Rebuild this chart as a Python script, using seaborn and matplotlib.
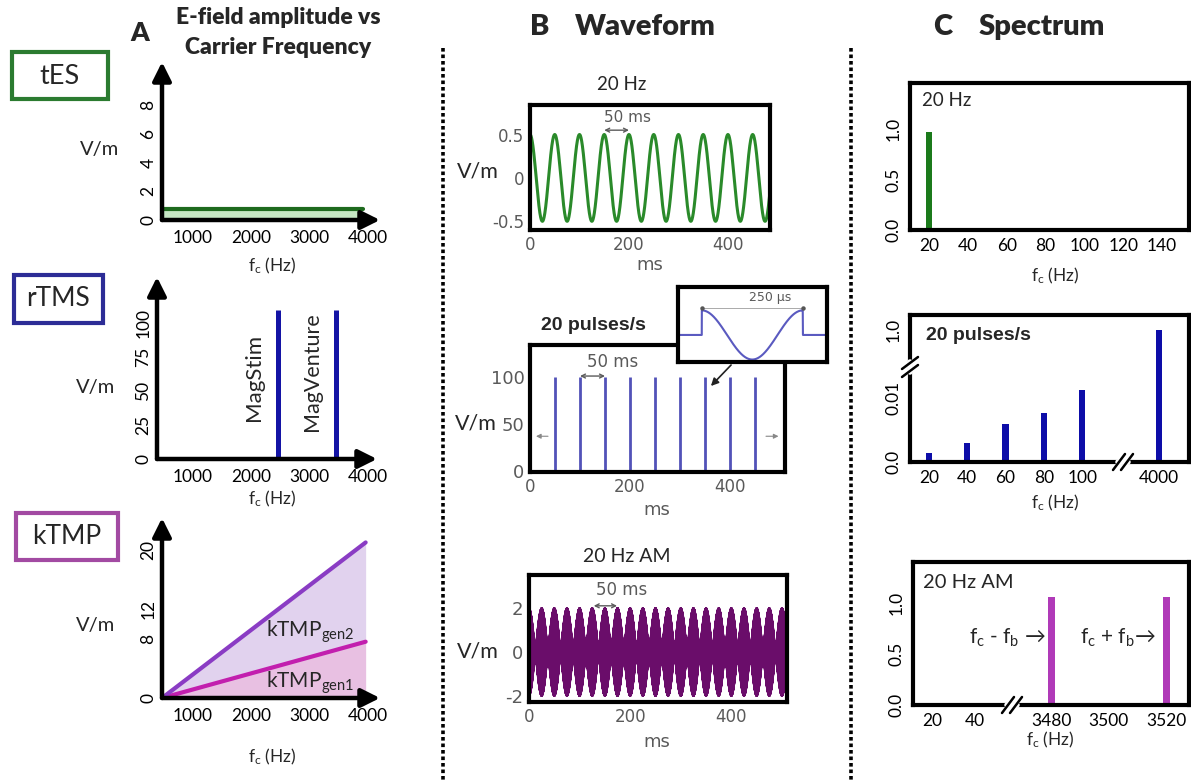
import numpy as np
import pandas as pd
import matplotlib
matplotlib.use("Agg")
import matplotlib.pyplot as plt
import seaborn as sns
from matplotlib.lines import Line2D
from matplotlib.patches import Rectangle, FancyArrowPatch

# ---------------- data ----------------
FREQ_TICKS = [1000, 2000, 3000, 4000]

TES_FREQ = [470, 3920]
TES_AMP = [0.75, 0.75]
TES_YTICKS = [0, 2, 4, 6, 8]

RTMS_DEVICES = ["MagStim", "MagVenture"]
RTMS_FREQ = [2450, 3450]
RTMS_AMP = [110, 110]
RTMS_YTICKS = [0, 25, 50, 75, 100]

KTMP_FREQ = [470, 3960]
KTMP_GEN1 = [0, 7.6]
KTMP_GEN2 = [0, 21.0]
KTMP_YTICKS = [0, 8, 12, 20]

SINE_FREQ_HZ = 20
SINE_AMP = 0.5
PULSE_TIMES_MS = [50, 100, 150, 200, 250, 300, 350, 400, 450]
PULSE_AMP = 100
PULSE_WIDTH_US = 250
AM_CARRIERS_HZ = [3480, 3520]
AM_AMPS = [1.0, 1.0]
MS_TICKS = [0, 200, 400]

SPEC1_FREQ = [20]
SPEC1_AMP = [0.97]
SPEC1_XTICKS = [20, 40, 60, 80, 100, 120, 140]

SPEC2_LABELS = ["20", "40", "60", "80", "100", "4000"]
SPEC2_AMP = [0.0014, 0.003, 0.006, 0.0077, 0.0112, 1.0]
SPEC2_ORDER = ["20", "40", "60", "80", "100", " ", "4000"]

SPEC3_FREQ = [3480, 3520]
SPEC3_AMP = [1.06, 1.06]
SPEC3_XTICKS = [20, 40, 3480, 3500, 3520]

# ---------------- style ----------------
sns.set_theme(style="white")
plt.rcParams['font.family'] = ['Lato', 'DejaVu Sans']
plt.rcParams['mathtext.fontset'] = 'custom'
plt.rcParams['mathtext.rm'] = 'Lato'
plt.rcParams['mathtext.it'] = 'Lato:italic'
plt.rcParams['mathtext.bf'] = 'Lato:bold'

W, H = 1191, 782
fig = plt.figure(figsize=(W / 100, H / 100), dpi=100)
fig.patch.set_facecolor('white')


def px(x, y):
    return x / W, 1 - y / H


def add_ax(x0, y0, x1, y1):
    return fig.add_axes([x0 / W, 1 - y1 / H, (x1 - x0) / W, (y1 - y0) / H])


def ftext(x, y, s, **kw):
    kw.setdefault('ha', 'center')
    kw.setdefault('va', 'center')
    return fig.text(x / W, 1 - y / H, s, **kw)


def fline(xs, ys, **kw):
    fig.add_artist(Line2D([x / W for x in xs], [1 - y / H for y in ys],
                          transform=fig.transFigure, **kw))


def fbox(x0, y0, x1, y1, color, lw=3):
    fig.add_artist(Rectangle((x0 / W, 1 - y1 / H), (x1 - x0) / W, (y1 - y0) / H,
                             transform=fig.transFigure, fill=False, ec=color, lw=lw))


def farrow(x0, y0, x1, y1, **kw):
    fig.add_artist(FancyArrowPatch(px(x0, y0), px(x1, y1),
                                   transform=fig.transFigure, **kw))


FC = 'f$_\\mathrm{c}$ (Hz)'
GRAY = '#5a5a5a'
HEAVY = 'heavy'


def arrow_axes(ax, xlim, ylim, yticks):
    ax.set_xlim(xlim)
    ax.set_ylim(ylim)
    for s in ax.spines.values():
        s.set_visible(False)
    ax.set_facecolor('none')
    ap = dict(arrowstyle='-|>,head_length=0.8,head_width=0.4', lw=3.2,
              color='black', shrinkA=0, shrinkB=0, mutation_scale=14)
    ax.annotate('', xy=(1.0, 0), xytext=(0, 0), xycoords='axes fraction',
                textcoords='axes fraction', arrowprops=ap, annotation_clip=False)
    ax.annotate('', xy=(0, 1.0), xytext=(0, 0), xycoords='axes fraction',
                textcoords='axes fraction', arrowprops=ap, annotation_clip=False)
    ax.set_xticks(FREQ_TICKS, labels=[str(t) for t in FREQ_TICKS])
    ax.set_yticks(yticks, labels=[str(t) for t in yticks])
    ax.tick_params(axis='both', length=0, labelsize=12.5, colors='black')
    ax.tick_params(axis='x', pad=7)
    ax.tick_params(axis='y', pad=4, labelrotation=90)
    for lab in ax.get_yticklabels():
        lab.set_va('center')
    ax.set(xlabel='', ylabel='')
    ax.grid(False)


def frame_axes(ax, lw=3):
    for s in ax.spines.values():
        s.set_visible(True)
        s.set_linewidth(lw)
        s.set_color('black')
    ax.grid(False)
    ax.set(xlabel='', ylabel='')


# ---------------- column A ----------------
ftext(140, 33, 'A', fontsize=19, fontweight=HEAVY)
ftext(278, 18, 'E-field amplitude vs', fontsize=16.5, fontweight=HEAVY)
ftext(278, 47, 'Carrier Frequency', fontsize=16.5, fontweight=HEAVY)

# tES
fbox(12, 52, 108, 99, '#2b7b30')
ftext(60, 76, 'tES', fontsize=19.5)
ax = add_ax(162, 62, 380, 220)
ax.fill_between(TES_FREQ, 0, TES_AMP, color='#c6e7c4', lw=0)
sns.lineplot(x=TES_FREQ, y=TES_AMP, color='#1e6a1e', lw=3, ax=ax)
arrow_axes(ax, (469, 4206), (0, 11), TES_YTICKS)
ftext(100, 150, 'V/m', fontsize=14.5)
ftext(272, 266, FC, fontsize=12.5)

# rTMS
fbox(14, 275, 103, 323, '#2c2c96')
ftext(58, 299, 'rTMS', fontsize=19)
ax = add_ax(157, 277, 377, 459)
ax.vlines(RTMS_FREQ, 0, RTMS_AMP, color='#1414a5', lw=3.6)
for name, f, yy, fs in zip(RTMS_DEVICES, RTMS_FREQ, [60, 64], [16, 15.5]):
    ax.text(f - 410, yy, name, rotation=90, ha='center', va='center', fontsize=fs)
arrow_axes(ax, (383, 4154), (0, 134), RTMS_YTICKS)
ftext(96, 388, 'V/m', fontsize=14.5)
ftext(272, 499, FC, fontsize=12.5)

# kTMP
fbox(16, 513, 118, 560, '#a24aa2')
ftext(67, 537, 'kTMP', fontsize=19)
ax = add_ax(162, 518, 380, 698)
ax.fill_between(KTMP_FREQ, 0, KTMP_GEN1, color='#e8c0e2', lw=0)
ax.fill_between(KTMP_FREQ, KTMP_GEN1, KTMP_GEN2, color='#e1d2ee', lw=0)
kdf = pd.DataFrame({'freq': KTMP_FREQ * 2, 'amp': KTMP_GEN1 + KTMP_GEN2,
                    'gen': ['gen1'] * 2 + ['gen2'] * 2})
sns.lineplot(data=kdf, x='freq', y='amp', hue='gen',
             palette={'gen1': '#c21fae', 'gen2': '#8a3cc4'}, lw=3,
             legend=False, ax=ax)
ax.text(3000, 8.9, 'kTMP$_\\mathrm{gen2}$', ha='center', va='center', fontsize=15)
ax.text(3000, 2.1, 'kTMP$_\\mathrm{gen1}$', ha='center', va='center', fontsize=15)
arrow_axes(ax, (469, 4206), (0, 24.3), KTMP_YTICKS)
ftext(96, 626, 'V/m', fontsize=14.5)
ftext(272, 757, FC, fontsize=12.5)

# separators
fline([443, 443], [48, 782], color='black', lw=2.6, ls=(0, (1, 0.8)))
fline([851, 851], [48, 782], color='black', lw=2.6, ls=(0, (1, 0.8)))


# ---------------- column B ----------------
ftext(540, 27, 'B', fontsize=21, fontweight=HEAVY)
ftext(645, 27, 'Waveform', fontsize=21, fontweight=HEAVY)


def b_ticks(ax, yticks, ylabels):
    ax.set_xticks(MS_TICKS, labels=[str(t) for t in MS_TICKS])
    ax.set_yticks(yticks, labels=ylabels)
    ax.tick_params(axis='both', length=0, labelsize=12, colors=GRAY,
                   labelfontfamily='DejaVu Sans')
    ax.tick_params(axis='x', pad=4)
    ax.tick_params(axis='y', pad=4)


def span(ax, x0, x1, y):
    ax.annotate('', xy=(x0, y), xytext=(x1, y),
                arrowprops=dict(arrowstyle='<->', color=GRAY, lw=1,
                                shrinkA=0, shrinkB=0, mutation_scale=7))


# 20 Hz sine
ftext(622, 85, '20 Hz', fontsize=13.5)
ax = add_ax(530, 105, 770, 230)
t_ms = np.linspace(0, 500, 5001)
sine = SINE_AMP * np.cos(2 * np.pi * SINE_FREQ_HZ * t_ms / 1000)
sns.lineplot(x=t_ms, y=sine, color='#2a8a2a', lw=2.2, estimator=None, ax=ax)
ax.set_xlim(0, 485)
ax.set_ylim(-0.6, 0.84)
frame_axes(ax)
b_ticks(ax, [0.5, 0, -0.5], ['0.5', '0', '-0.5'])
span(ax, 150, 200, 0.55)
ftext(627, 118, '50 ms', fontsize=11, color=GRAY, family='DejaVu Sans')
ftext(478, 172, 'V/m', fontsize=15.5)
ftext(650, 265, 'ms', fontsize=13, color=GRAY, family='DejaVu Sans')

# 20 pulses/s
ftext(593, 325, '20 pulses/s', fontsize=14, fontweight='bold',
      family='Liberation Sans')
ax = add_ax(530, 345, 785, 472)
ax.vlines(PULSE_TIMES_MS, 0, PULSE_AMP, color='#5252b8', lw=2)
ax.set_xlim(0, 510)
ax.set_ylim(-1, 134)
frame_axes(ax)
b_ticks(ax, [0, 50, 100], ['0', '50', '100'])
ax.tick_params(axis='y', labelsize=13)
span(ax, 100, 150, 101)
ax.annotate('', xy=(12, 37), xytext=(36, 37),
            arrowprops=dict(arrowstyle='-|>', color='#888', lw=0.8,
                            shrinkA=0, shrinkB=0, mutation_scale=7))
ax.annotate('', xy=(497, 37), xytext=(472, 37),
            arrowprops=dict(arrowstyle='-|>', color='#888', lw=0.8,
                            shrinkA=0, shrinkB=0, mutation_scale=7))
ftext(613, 362, '50 ms', fontsize=12, color=GRAY, family='DejaVu Sans')
ftext(476, 423, 'V/m', fontsize=15.5)
ftext(657, 510, 'ms', fontsize=13, color=GRAY, family='DejaVu Sans')

# inset: one biphasic pulse
axi = add_ax(678, 287, 827, 362)
axi.set_facecolor('white')
t_us = np.linspace(-59, 310, 1500)
pulse = np.where((t_us >= 0) & (t_us <= PULSE_WIDTH_US),
                 np.cos(2 * np.pi * t_us / PULSE_WIDTH_US), 0.0)
sns.lineplot(x=t_us, y=pulse, color='#5a5ac0', lw=1.5, estimator=None, ax=axi)
axi.plot([0, PULSE_WIDTH_US], [1.08, 1.08], color='#aaaaaa', lw=0.7,
         marker='o', ms=2.2, mfc='#555', mec='#555')
axi.set_xlim(-59, 310)
axi.set_ylim(-1.1, 1.95)
frame_axes(axi)
axi.set_xticks([])
axi.set_yticks([])
ftext(770, 298, '250 \u00b5s', fontsize=9, color=GRAY, family='DejaVu Sans')
farrow(733, 363, 709, 388, arrowstyle='-|>', mutation_scale=11, color='#222', lw=1.2)

# 20 Hz AM
ftext(627, 557, '20 Hz AM', fontsize=14)
ax = add_ax(529, 575, 787, 702)
t_am = np.linspace(0, 510, 300001)
am = sum(a * np.cos(2 * np.pi * f * t_am / 1000) for f, a in zip(AM_CARRIERS_HZ, AM_AMPS))
sns.lineplot(x=t_am, y=am, color='#6a0d6a', lw=1.2, estimator=None, ax=ax)
ax.set_xlim(0, 510)
ax.set_ylim(-2.27, 3.5)
frame_axes(ax)
b_ticks(ax, [2, 0, -2], ['2', '0', '-2'])
ax.tick_params(axis='y', labelsize=13)
span(ax, 128, 174, 2.1)
ftext(622, 590, '50 ms', fontsize=12, color=GRAY, family='DejaVu Sans')
ftext(478, 652, 'V/m', fontsize=15.5)
ftext(657, 742, 'ms', fontsize=13, color=GRAY, family='DejaVu Sans')


# ---------------- column C ----------------
ftext(943, 27, 'C', fontsize=21, fontweight=HEAVY)
ftext(1042, 27, 'Spectrum', fontsize=21, fontweight=HEAVY)


def c_ticks(ax):
    ax.tick_params(axis='both', length=0, labelsize=12.5, colors='black')
    ax.tick_params(axis='x', pad=6)
    ax.tick_params(axis='y', pad=6, labelrotation=90)
    for lab in ax.get_yticklabels():
        lab.set_va('center')


def brk(xc, yc, vertical):
    if vertical:
        fline([xc, xc], [yc - 5, yc + 5], color='white', lw=4, zorder=10)
        for d in (-4, 4):
            fline([xc - 8, xc + 8], [yc + d + 6, yc + d - 6], color='black', lw=1.8, zorder=11)
    else:
        fline([xc - 5, xc + 5], [yc, yc], color='white', lw=4, zorder=10)
        for d in (-4, 4):
            fline([xc + d - 6, xc + d + 6], [yc + 8, yc - 8], color='black', lw=1.8, zorder=11)


# 20 Hz spectrum
ax = add_ax(910, 83, 1189, 230)
sns.barplot(x=SPEC1_FREQ, y=SPEC1_AMP, native_scale=True, width=3,
            color='#1b7a1b', saturation=1, linewidth=0, ax=ax)
ax.set_xlim(10.3, 153.8)
ax.set_ylim(0, 1.46)
frame_axes(ax)
ax.set_xticks(SPEC1_XTICKS, labels=[str(t) for t in SPEC1_XTICKS])
ax.set_yticks([0, 0.5, 1.0], labels=['0.0', '0.5', '1.0'])
c_ticks(ax)
ftext(947, 100, '20 Hz', fontsize=13.5, ha='center')
ftext(1055, 276, FC, fontsize=12.5)

# 20 pulses/s spectrum (broken axes)
Y_BRK = 0.0125


def yfwd(y):
    y = np.asarray(y, float)
    return np.where(y <= Y_BRK, y * 6400, 80 + (y - Y_BRK) / (1 - Y_BRK) * 52)


def yinv(v):
    v = np.asarray(v, float)
    return np.where(v <= 80, v / 6400, Y_BRK + (v - 80) / 52 * (1 - Y_BRK))


ax = add_ax(910, 315, 1189, 462)
sns.barplot(x=SPEC2_LABELS, y=SPEC2_AMP, order=SPEC2_ORDER, width=0.16,
            color='#0d0da8', saturation=1, linewidth=0, ax=ax)
ax.set_yscale('function', functions=(yfwd, yinv))
ax.set_xlim(-0.49, 6.78)
ax.set_ylim(0, 1.285)
frame_axes(ax)
ax.set_xticks(range(len(SPEC2_ORDER)), labels=SPEC2_ORDER)
ax.set_yticks([0, 0.01, 1.0], labels=['0.0', '0.01', '1.0'])
ax.yaxis.set_minor_locator(matplotlib.ticker.NullLocator())
c_ticks(ax)
ftext(978, 335, '20 pulses/s', fontsize=14, fontweight='bold',
      family='Liberation Sans')
ftext(1055, 503, FC, fontsize=12.5)
brk(910, 367, True)
brk(1123, 462, False)


# 20 Hz AM spectrum (broken x axis)
def xfwd(x):
    x = np.asarray(x, float)
    return np.where(x <= 60, x * 2.15,
                    np.where(x <= 3470, 129 + (x - 60) / 3410 * 5.25,
                             134.25 + (x - 3470) * 2.875))


def xinv(v):
    v = np.asarray(v, float)
    return np.where(v <= 129, v / 2.15,
                    np.where(v <= 134.25, 60 + (v - 129) / 5.25 * 3410,
                             3470 + (v - 134.25) / 2.875))


ax = add_ax(913, 562, 1189, 705)
sns.barplot(x=SPEC3_FREQ, y=SPEC3_AMP, native_scale=True, width=0.06,
            color='#b03ab8', saturation=1, linewidth=0, ax=ax)
ax.set_xscale('function', functions=(xfwd, xinv))
ax.set_xlim(11.2, 3528)
ax.set_ylim(0, 1.40)
frame_axes(ax)
ax.set_xticks(SPEC3_XTICKS, labels=[str(t) for t in SPEC3_XTICKS])
ax.xaxis.set_minor_locator(matplotlib.ticker.NullLocator())
ax.set_yticks([0, 0.5, 1.0], labels=['0.0', '0.5', '1.0'])
c_ticks(ax)
ftext(968, 582, '20 Hz AM', fontsize=14.5)
ftext(1007, 638, 'f$_\\mathrm{c}$ - f$_\\mathrm{b}$ \u2192', fontsize=15)
ftext(1118, 638, 'f$_\\mathrm{c}$ + f$_\\mathrm{b}$\u2192', fontsize=15)
ftext(1050, 740, FC, fontsize=12.5)
brk(1012, 705, False)

fig.savefig('out.png', dpi=100, facecolor='white')
